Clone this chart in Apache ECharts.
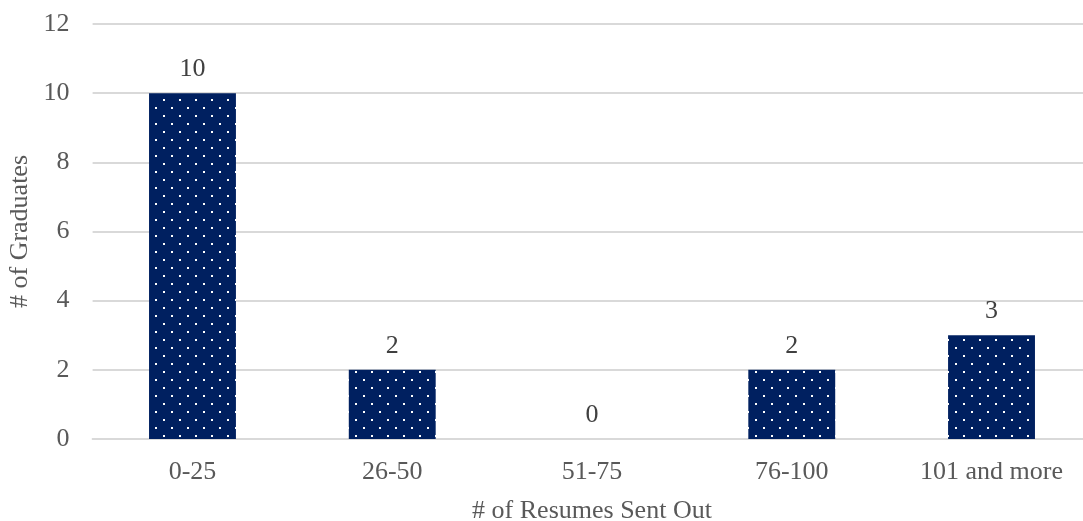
<!DOCTYPE html>
<html><head><meta charset="utf-8">
<script src="https://cdn.jsdelivr.net/npm/echarts@6/dist/echarts.min.js"></script>
<style>html,body{margin:0;padding:0;background:#fff}#c{width:1083px;height:521px}</style>
</head><body><div id="c"></div>
<script>
const categories = ['0-25','26-50','51-75','76-100','101 and more'];
const graduates = [10, 2, 0, 2, 3];
const yTicks = [0, 2, 4, 6, 8, 10, 12];

const tile = document.createElement('canvas');
tile.width = 16; tile.height = 16;
const g = tile.getContext('2d');
g.fillStyle = '#002060'; g.fillRect(0,0,16,16);
g.fillStyle = '#ffffff';
g.fillRect(3,3,2,2); g.fillRect(11,11,2,2);

const font = '"Liberation Serif", "Times New Roman", serif';
const chart = echarts.init(document.getElementById('c'));
chart.setOption({
  animation: false,
  grid: {left: 92.6, right: -8.4, top: 24, bottom: 82, outerBoundsMode: 'none', containLabel: false},
  xAxis: {
    type: 'category', data: categories,
    name: '# of Resumes Sent Out', nameLocation: 'middle', nameGap: 59,
    nameTextStyle: {color: '#595959', fontSize: 26, fontFamily: font},
    axisLine: {lineStyle: {color: '#d9d9d9', width: 2}},
    axisTick: {show: false},
    axisLabel: {color: '#595959', fontSize: 26, fontFamily: font, margin: 20}
  },
  yAxis: {
    type: 'value', min: yTicks[0], max: yTicks[yTicks.length-1], interval: 2,
    name: '# of Graduates', nameLocation: 'middle', nameGap: 57, nameRotate: 90,
    nameTextStyle: {color: '#595959', fontSize: 26, fontFamily: font},
    axisLine: {show: false}, axisTick: {show: false},
    splitLine: {lineStyle: {color: '#d9d9d9', width: 2}},
    axisLabel: {color: '#595959', fontSize: 26, fontFamily: font, margin: 23}
  },
  series: [{
    type: 'bar', data: graduates, barWidth: '43.5%',
    itemStyle: {color: {image: tile, repetition: 'repeat'}},
    label: {show: true, position: 'top', distance: 11, color: '#404040', fontSize: 26, fontFamily: font}
  }]
});
</script></body></html>
